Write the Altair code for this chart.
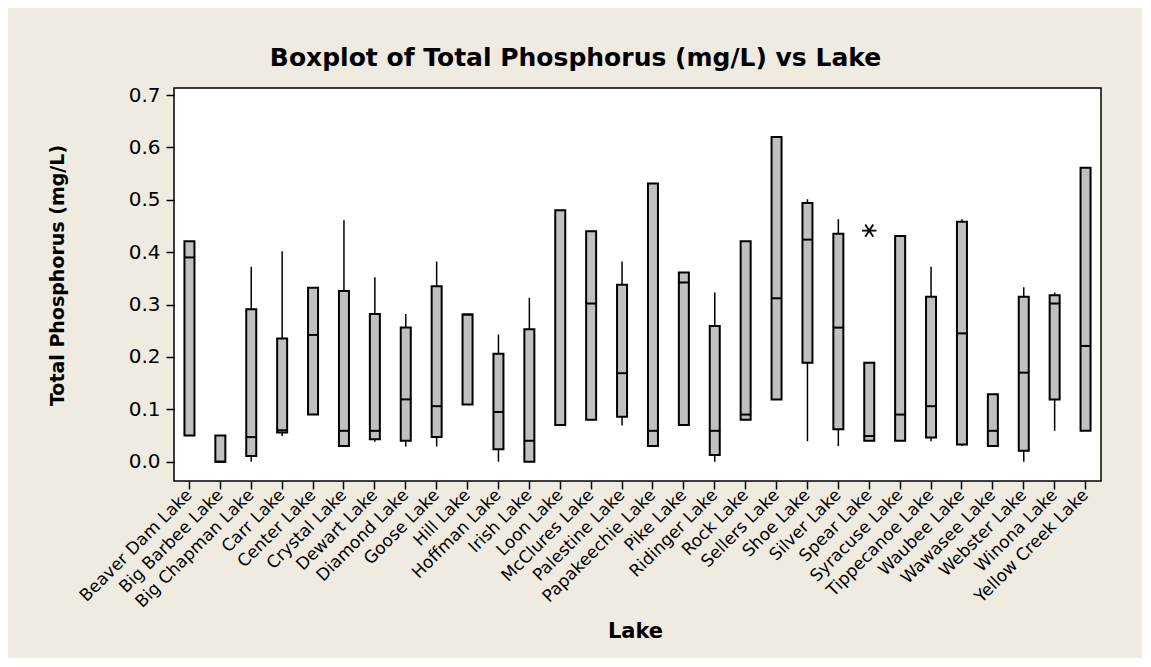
import altair as alt
import pandas as pd

lakes = ["Beaver Dam Lake", "Big Barbee Lake", "Big Chapman Lake", "Carr Lake", "Center Lake",
         "Crystal Lake", "Dewart Lake", "Diamond Lake", "Goose Lake", "Hill Lake",
         "Hoffman Lake", "Irish Lake", "Loon Lake", "McClures Lake", "Palestine Lake",
         "Papakeechie Lake", "Pike Lake", "Ridinger Lake", "Rock Lake", "Sellers Lake",
         "Shoe Lake", "Silver Lake", "Spear Lake", "Syracuse Lake", "Tippecanoe Lake",
         "Waubee Lake", "Wawasee Lake", "Webster Lake", "Winona Lake", "Yellow Creek Lake"]

whisk_lo = [0.050, 0.000, 0.000, 0.049, 0.090, 0.030, 0.038, 0.029, 0.029, 0.109,
            0.000, 0.000, 0.070, 0.080, 0.069, 0.030, 0.070, 0.000, 0.080, 0.119,
            0.039, 0.030, 0.040, 0.040, 0.039, 0.030, 0.030, 0.000, 0.059, 0.059]
q1 = [0.050, 0.000, 0.011, 0.056, 0.090, 0.030, 0.043, 0.040, 0.047, 0.109,
      0.024, 0.000, 0.070, 0.080, 0.086, 0.030, 0.070, 0.013, 0.080, 0.119,
      0.189, 0.062, 0.040, 0.040, 0.046, 0.033, 0.030, 0.021, 0.119, 0.059]
median = [0.390, 0.000, 0.047, 0.060, 0.242, 0.059, 0.059, 0.119, 0.106, 0.281,
          0.095, 0.040, 0.070, 0.302, 0.169, 0.059, 0.342, 0.059, 0.090, 0.312,
          0.424, 0.256, 0.049, 0.090, 0.106, 0.245, 0.059, 0.170, 0.302, 0.221]
q3 = [0.421, 0.050, 0.291, 0.235, 0.332, 0.326, 0.282, 0.256, 0.335, 0.281,
      0.206, 0.253, 0.480, 0.440, 0.338, 0.531, 0.361, 0.259, 0.421, 0.620,
      0.494, 0.435, 0.189, 0.431, 0.315, 0.458, 0.129, 0.315, 0.318, 0.561]
whisk_hi = [0.421, 0.050, 0.372, 0.402, 0.332, 0.461, 0.352, 0.282, 0.382, 0.281,
            0.243, 0.313, 0.480, 0.440, 0.382, 0.531, 0.361, 0.323, 0.421, 0.620,
            0.501, 0.463, 0.189, 0.431, 0.372, 0.463, 0.129, 0.333, 0.323, 0.561]

outlier_lakes = ["Spear Lake"]
outlier_values = [0.441]

y_ticks = [0.0, 0.1, 0.2, 0.3, 0.4, 0.5, 0.6, 0.7]

df = pd.DataFrame({"Lake": lakes, "lo": whisk_lo, "q1": q1, "med": median,
                   "q3": q3, "hi": whisk_hi})
out_df = pd.DataFrame({"Lake": outlier_lakes, "val": outlier_values})

FONT = "DejaVu Sans"
xscale = alt.Scale(domain=lakes, paddingInner=0, paddingOuter=0)
yscale = alt.Scale(domain=[-0.0368, 0.7134], nice=False, zero=False)

x_axis = alt.Axis(title="Lake", labelAngle=315, labelAlign="right", labelBaseline="middle",
                  labelFontSize=17, labelPadding=3, labelOverlap=False, labelLimit=300,
                  labelColor="black", labelFont=FONT,
                  tickSize=8, tickWidth=1.5, tickColor="black", domain=False, grid=False,
                  titleFontSize=21, titleFontWeight="bold", titleFont=FONT, titleColor="black",
                  titleX=461, titleY=156, titleAlign="center", titleBaseline="alphabetic")
y_axis = alt.Axis(title="Total Phosphorus (mg/L)", values=y_ticks, format=".1f",
                  labelFontSize=20, labelPadding=6, labelColor="black", labelFont=FONT,
                  tickSize=8, tickWidth=1.5, tickColor="black", domain=False, grid=False,
                  titleFontSize=19, titleFontWeight="bold", titleFont=FONT, titleColor="black",
                  titleAngle=270, titleX=-117, titleY=187, titleAlign="center",
                  titleBaseline="middle")

base = alt.Chart(df)

whiskers = base.mark_rule(color="black", strokeWidth=1.5).encode(
    x=alt.X("Lake:N", scale=xscale, sort=lakes, axis=x_axis),
    y=alt.Y("lo:Q", scale=yscale, axis=y_axis),
    y2="hi:Q",
)
boxes = base.mark_bar(size=10, fill="#C0C0C0", stroke="black", strokeWidth=2,
                      opacity=1).encode(
    x=alt.X("Lake:N", scale=xscale, sort=lakes),
    y=alt.Y("q1:Q", scale=yscale),
    y2="q3:Q",
)
medians = base.mark_tick(color="black", thickness=2, size=11, opacity=1).encode(
    x=alt.X("Lake:N", scale=xscale, sort=lakes),
    y=alt.Y("med:Q", scale=yscale),
)
asterisk = "M-1,0L1,0M-0.55,-0.85L0.55,0.85M-0.55,0.85L0.55,-0.85"
outliers = alt.Chart(out_df).mark_point(shape=asterisk, size=210, filled=False,
                                        stroke="black", strokeWidth=1.8, opacity=1).encode(
    x=alt.X("Lake:N", scale=xscale, sort=lakes),
    y=alt.Y("val:Q", scale=yscale),
)

chart = alt.layer(whiskers, boxes, medians, outliers).properties(
    width=927,
    height=393,
    title=alt.Title("Boxplot of Total Phosphorus (mg/L) vs Lake", font=FONT, fontSize=25,
                    fontWeight="bold", color="black", anchor="middle", frame="group",
                    dx=-62, dy=7, offset=1, baseline="alphabetic"),
    autosize=alt.AutoSizeParams(type="none"),
    padding={"left": 166, "top": 80, "right": 41, "bottom": 177},
).configure(
    background="#EFEBE1",
    font=FONT,
).configure_view(
    fill="white",
    stroke="black",
    strokeWidth=1.5,
)

chart.save("out.html", embed_options={"renderer": "svg", "actions": False})
